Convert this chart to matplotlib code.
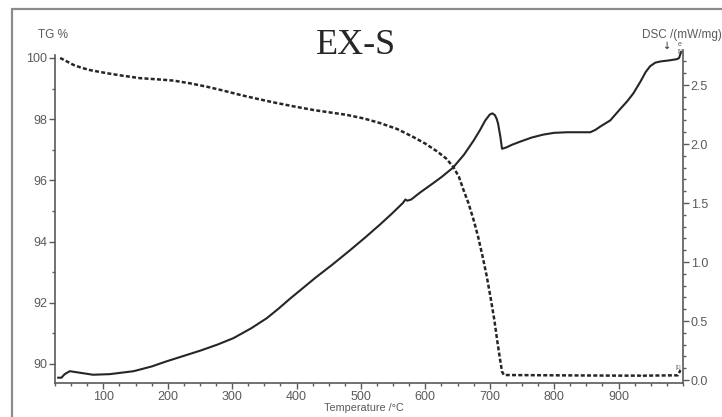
import matplotlib.pyplot as plt
from matplotlib.ticker import MultipleLocator
from matplotlib.patches import Rectangle

# TG curve (dashed), temperature in C, mass in %
tg_temp = [33, 44, 54, 66, 80, 106, 130, 157, 185, 209, 235, 261, 287, 313,
           340, 364, 395, 426, 452, 478, 505, 530, 556, 581, 600, 618, 632,
           643, 652, 659, 667, 675, 682, 689, 695, 701, 707, 712, 716, 719,
           722, 800, 900, 933, 936, 940, 992, 996]
tg_mass = [100.0, 99.88, 99.77, 99.68, 99.6, 99.5, 99.42, 99.34, 99.3, 99.26,
           99.17, 99.06, 98.93, 98.79, 98.66, 98.55, 98.42, 98.3, 98.22,
           98.14, 98.02, 97.87, 97.68, 97.42, 97.2, 96.95, 96.72, 96.45,
           96.12, 95.7, 95.25, 94.7, 94.15, 93.5, 92.9, 92.2, 91.45, 90.7,
           90.15, 89.75, 89.64, 89.63, 89.62, 89.62, 89.59, 89.62, 89.63,
           89.8]

# DSC curve (solid), mW/mg
dsc_temp = [30, 35, 40, 48, 60, 84, 110, 147, 175, 199, 225, 251, 277, 302,
            330, 354, 372, 390, 410, 430, 456, 483, 507, 530, 548, 565, 569,
            572, 578, 592, 610, 625, 643, 660, 675, 685, 693, 700, 704, 708,
            711, 713, 716.5, 719, 725, 735, 747, 765, 783, 800, 820, 856, 864,
            872, 887, 903, 913, 923, 934, 942, 949, 957, 965, 980, 991, 994,
            997]
dsc_val = [0.02, 0.02, 0.05, 0.075, 0.065, 0.045, 0.05, 0.075, 0.115, 0.16,
           0.205, 0.25, 0.30, 0.355, 0.44, 0.525, 0.605, 0.69, 0.78, 0.87,
           0.98, 1.10, 1.21, 1.32, 1.41, 1.50, 1.53, 1.52, 1.53, 1.59, 1.66,
           1.72, 1.80, 1.91, 2.03, 2.12, 2.20, 2.25, 2.26, 2.245, 2.21, 2.17,
           2.06, 1.96, 1.97, 1.995, 2.02, 2.055, 2.08, 2.095, 2.10, 2.10,
           2.12, 2.15, 2.20, 2.30, 2.36, 2.43, 2.53, 2.61, 2.66, 2.69, 2.70,
           2.71, 2.72, 2.73, 2.78]

x_ticks = [100, 200, 300, 400, 500, 600, 700, 800, 900]

plt.rcParams['font.family'] = ['Liberation Sans', 'DejaVu Sans']
grey = '#5a5a5a'
ink = '#262626'

fig = plt.figure(figsize=(7.22, 4.17), dpi=100)
fig.patches.append(Rectangle((12 / 722, -0.1), 1.2, (417 - 9) / 417 + 0.1,
                             transform=fig.transFigure, fill=False,
                             edgecolor='#8c8c8c', lw=1.6))

ax = fig.add_axes([55 / 722, (417 - 383) / 417, (683 - 55) / 722, 333 / 417])
ax2 = ax.twinx()

ax.plot(tg_temp, tg_mass, color=ink, lw=1.8, ls=(0, (1.6, 0.9)))
ax2.plot(dsc_temp, dsc_val, color=ink, lw=1.5, solid_joinstyle='round')

ax.set_xlim(25, 1000)
ax.set_ylim(89.379, 100.26)
ax2.set_ylim(-0.025, 2.797)

ax.set_xticks(x_ticks)
ax.xaxis.set_minor_locator(MultipleLocator(25))
ax.yaxis.set_major_locator(MultipleLocator(2))
ax.yaxis.set_minor_locator(MultipleLocator(1))
ax2.yaxis.set_major_locator(MultipleLocator(0.5))
ax2.yaxis.set_minor_locator(MultipleLocator(0.1))
ax2.yaxis.set_major_formatter(lambda v, p: f'{v:.1f}')

for a in (ax, ax2):
    a.spines['top'].set_visible(False)
    for s in a.spines.values():
        s.set_color(grey)
        s.set_linewidth(1.2)
    a.tick_params(which='major', length=4, width=1, color=grey,
                  labelcolor=grey, labelsize=9, pad=1.5)
    a.tick_params(which='minor', length=2, width=1, color=grey)
ax.spines['right'].set_visible(False)
ax2.spines['left'].set_visible(False)
ax2.spines['bottom'].set_visible(False)
ax.spines['left'].set_bounds(89.379, 100.1)

fig.text(364 / 722, 1 - 408 / 417, 'Temperature /°C', fontsize=7.8,
         color=grey, ha='center', va='center')
fig.text(38 / 722, 1 - 35 / 417, 'TG %', fontsize=8.5, color=grey,
         va='center')
fig.text(722 / 722, 1 - 35 / 417, 'DSC /(mW/mg)', fontsize=8.5, color=grey,
         va='center', ha='right')
fig.text(667 / 722, 1 - 46 / 417, '↓', fontsize=7, color=ink,
         ha='center', va='center', family='DejaVu Sans')
fig.text(680 / 722, 1 - 44 / 417, 'e', fontsize=5, color=grey,
         ha='center', va='center')
fig.text(680 / 722, 1 - 52 / 417, '[1]', fontsize=3.5, color=grey,
         ha='center', va='center')
fig.text(678 / 722, 1 - 367 / 417, '[1]', fontsize=3.5, color=grey,
         ha='center', va='center')
fig.text(356 / 722, 1 - 46 / 417, 'EX-S', fontsize=26, color=ink,
         ha='center', va='center', family='Liberation Serif')

fig.savefig('out.png', dpi=100)
